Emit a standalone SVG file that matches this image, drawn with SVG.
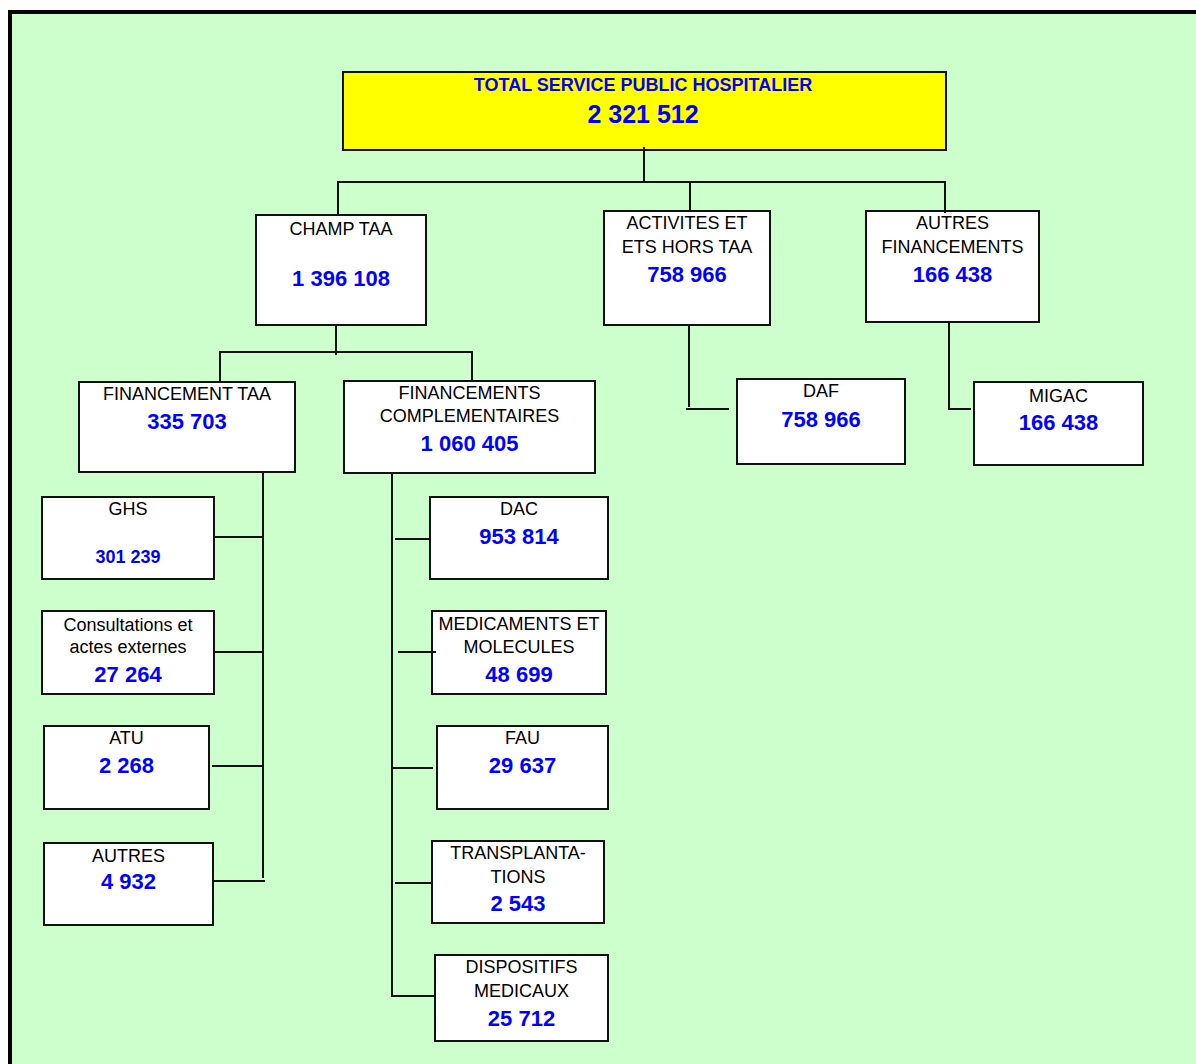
<svg xmlns="http://www.w3.org/2000/svg" width="1196" height="1064" viewBox="0 0 1196 1064">
<style>
.box{fill:#FFFFFF;stroke:#111;stroke-width:2}
.lbl{font-family:"Liberation Sans",Arial,sans-serif;font-size:18px;fill:#000;text-anchor:middle}
.num{font-family:"Liberation Sans",Arial,sans-serif;font-size:22px;font-weight:bold;fill:#0000FF;text-anchor:middle}
.conn{fill:none;stroke:#111;stroke-width:2}
</style>
<rect x="0" y="0" width="1196" height="1064" fill="#FFFFFF"/>
<rect x="10" y="12" width="1200" height="1100" fill="#CCFFCC" stroke="#000" stroke-width="4"/>
<g id="total">
<rect x="343" y="72" width="603" height="78" fill="#FFFF00" stroke="#111" stroke-width="2"/>
<text x="643" y="91" class="num" style="font-size:18px">TOTAL SERVICE PUBLIC HOSPITALIER</text>
<text x="643" y="123" class="num" style="font-size:25px">2 321 512</text>
</g>
<g id="champ-taa">
<rect class="box" x="256" y="215" width="170" height="110"/>
<text x="341" y="235" class="lbl">CHAMP TAA</text>
<text x="341" y="286" class="num">1 396 108</text>
</g>
<g id="activites">
<rect class="box" x="604" y="211" width="166" height="114"/>
<text x="687" y="229" class="lbl">ACTIVITES ET</text>
<text x="687" y="253" class="lbl">ETS HORS TAA</text>
<text x="687" y="282" class="num">758 966</text>
</g>
<g id="autres-financements">
<rect class="box" x="866" y="211" width="173" height="111"/>
<text x="952.5" y="229" class="lbl">AUTRES</text>
<text x="952.5" y="253" class="lbl">FINANCEMENTS</text>
<text x="952.5" y="282" class="num">166 438</text>
</g>
<g id="financement-taa">
<rect class="box" x="79" y="382" width="216" height="90"/>
<text x="187" y="400" class="lbl">FINANCEMENT TAA</text>
<text x="187" y="429" class="num">335 703</text>
</g>
<g id="financements-complementaires">
<rect class="box" x="344" y="381" width="251" height="92"/>
<text x="469.5" y="399" class="lbl">FINANCEMENTS</text>
<text x="469.5" y="422" class="lbl">COMPLEMENTAIRES</text>
<text x="469.5" y="451" class="num">1 060 405</text>
</g>
<g id="ghs">
<rect class="box" x="42" y="497" width="172" height="82"/>
<text x="128" y="515" class="lbl">GHS</text>
<text x="128" y="563" class="num" style="font-size:18px">301 239</text>
</g>
<g id="consultations">
<rect class="box" x="42" y="611" width="172" height="83"/>
<text x="128" y="631" class="lbl">Consultations et</text>
<text x="128" y="653" class="lbl">actes externes</text>
<text x="128" y="682" class="num">27 264</text>
</g>
<g id="atu">
<rect class="box" x="44" y="726" width="165" height="83"/>
<text x="126.5" y="744" class="lbl">ATU</text>
<text x="126.5" y="773" class="num">2 268</text>
</g>
<g id="autres">
<rect class="box" x="44" y="843" width="169" height="82"/>
<text x="128.5" y="862" class="lbl">AUTRES</text>
<text x="128.5" y="889" class="num">4 932</text>
</g>
<g id="dac">
<rect class="box" x="430" y="497" width="178" height="82"/>
<text x="519" y="515" class="lbl">DAC</text>
<text x="519" y="544" class="num">953 814</text>
</g>
<g id="medicaments">
<rect class="box" x="432" y="611" width="174" height="83"/>
<text x="519" y="630" class="lbl">MEDICAMENTS ET</text>
<text x="519" y="653" class="lbl">MOLECULES</text>
<text x="519" y="682" class="num">48 699</text>
</g>
<g id="fau">
<rect class="box" x="437" y="726" width="171" height="83"/>
<text x="522.5" y="744" class="lbl">FAU</text>
<text x="522.5" y="773" class="num">29 637</text>
</g>
<g id="transplantations">
<rect class="box" x="432" y="841" width="172" height="82"/>
<text x="518" y="859" class="lbl">TRANSPLANTA-</text>
<text x="518" y="883" class="lbl">TIONS</text>
<text x="518" y="911" class="num">2 543</text>
</g>
<g id="dispositifs">
<rect class="box" x="435" y="955" width="173" height="86"/>
<text x="521.5" y="973" class="lbl">DISPOSITIFS</text>
<text x="521.5" y="997" class="lbl">MEDICAUX</text>
<text x="521.5" y="1026" class="num">25 712</text>
</g>
<g id="daf">
<rect class="box" x="737" y="379" width="168" height="85"/>
<text x="821" y="397" class="lbl">DAF</text>
<text x="821" y="427" class="num">758 966</text>
</g>
<g id="migac">
<rect class="box" x="974" y="382" width="169" height="83"/>
<text x="1058.5" y="402" class="lbl">MIGAC</text>
<text x="1058.5" y="430" class="num">166 438</text>
</g>
<g id="connectors" class="conn">
<path d="M644 147V182"/>
<path d="M337 182H946"/>
<path d="M338 182V215"/>
<path d="M690 182V211"/>
<path d="M945 182V213"/>
<path d="M336 325V355"/>
<path d="M219 352H473"/>
<path d="M220 352V382"/>
<path d="M472 352V381"/>
<path d="M263 472V878"/>
<path d="M213 537H263"/>
<path d="M213 652H263"/>
<path d="M212 766H263"/>
<path d="M213 881H265"/>
<path d="M392 473V997"/>
<path d="M395 539H430"/>
<path d="M398 652H436"/>
<path d="M392 768H433"/>
<path d="M395 883H432"/>
<path d="M392 996H435"/>
<path d="M689 325V407"/>
<path d="M686 409H729"/>
<path d="M949 322V409H971"/>
</g>
</svg>
